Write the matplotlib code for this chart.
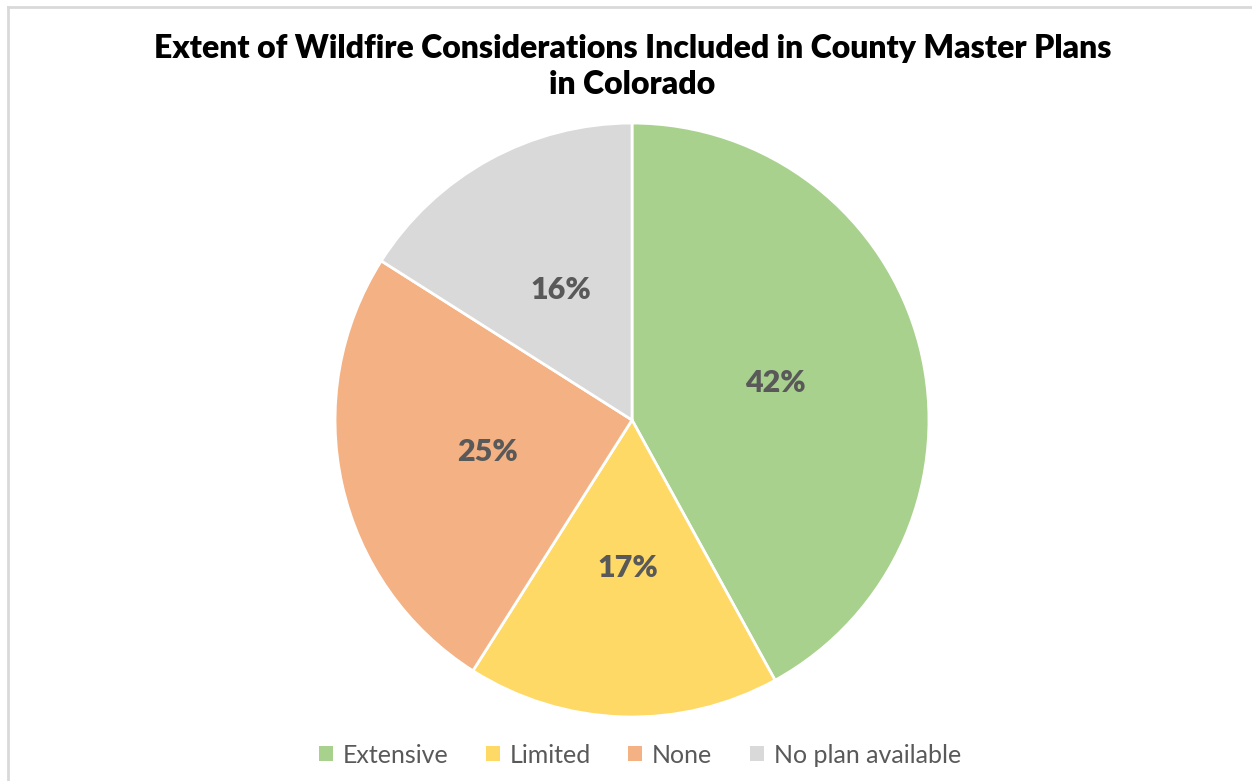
import matplotlib.pyplot as plt
from matplotlib.patches import Patch
from matplotlib.lines import Line2D

categories = ['Extensive', 'Limited', 'None', 'No plan available']
shares = [42, 17, 25, 16]
colors = ['#A9D18E', '#FFD966', '#F4B183', '#D9D9D9']

plt.rcParams['font.family'] = ['Lato', 'DejaVu Sans']

fig = plt.figure(figsize=(12.52, 7.81), dpi=100)
ax = fig.add_axes([0.2676, 0.0819, 0.4744, 0.7606])

wedges, texts, autotexts = ax.pie(
    shares, colors=colors, startangle=90, counterclock=False,
    autopct='%d%%', pctdistance=0.5, radius=1,
    wedgeprops={'edgecolor': 'white', 'linewidth': 2},
    textprops={'fontsize': 22, 'fontweight': 'heavy', 'color': '#595959'})
ax.set_xlim(-1, 1)
ax.set_ylim(-1, 1)
ax.set_aspect('equal')

fig.text(0.505, 0.915, 'Extent of Wildfire Considerations Included in County Master Plans\nin Colorado',
         ha='center', va='center', fontsize=23, fontweight='heavy', color='black', linespacing=1.32)

handles = [Patch(facecolor=c, edgecolor='none') for c in colors]
fig.legend(handles, categories, loc='center', bbox_to_anchor=(0.511, 0.033), ncol=4,
           frameon=False, fontsize=18, labelcolor='#595959', handlelength=0.55, handleheight=0.55,
           handletextpad=0.4, columnspacing=1.5)

# light frame on the left and top edges
fig.add_artist(Line2D([0.0064, 0.0064], [0, 0.991], color='#D9D9D9', lw=2, transform=fig.transFigure))
fig.add_artist(Line2D([0.0064, 1], [0.991, 0.991], color='#D9D9D9', lw=2, transform=fig.transFigure))

fig.savefig('out.png', dpi=100)
